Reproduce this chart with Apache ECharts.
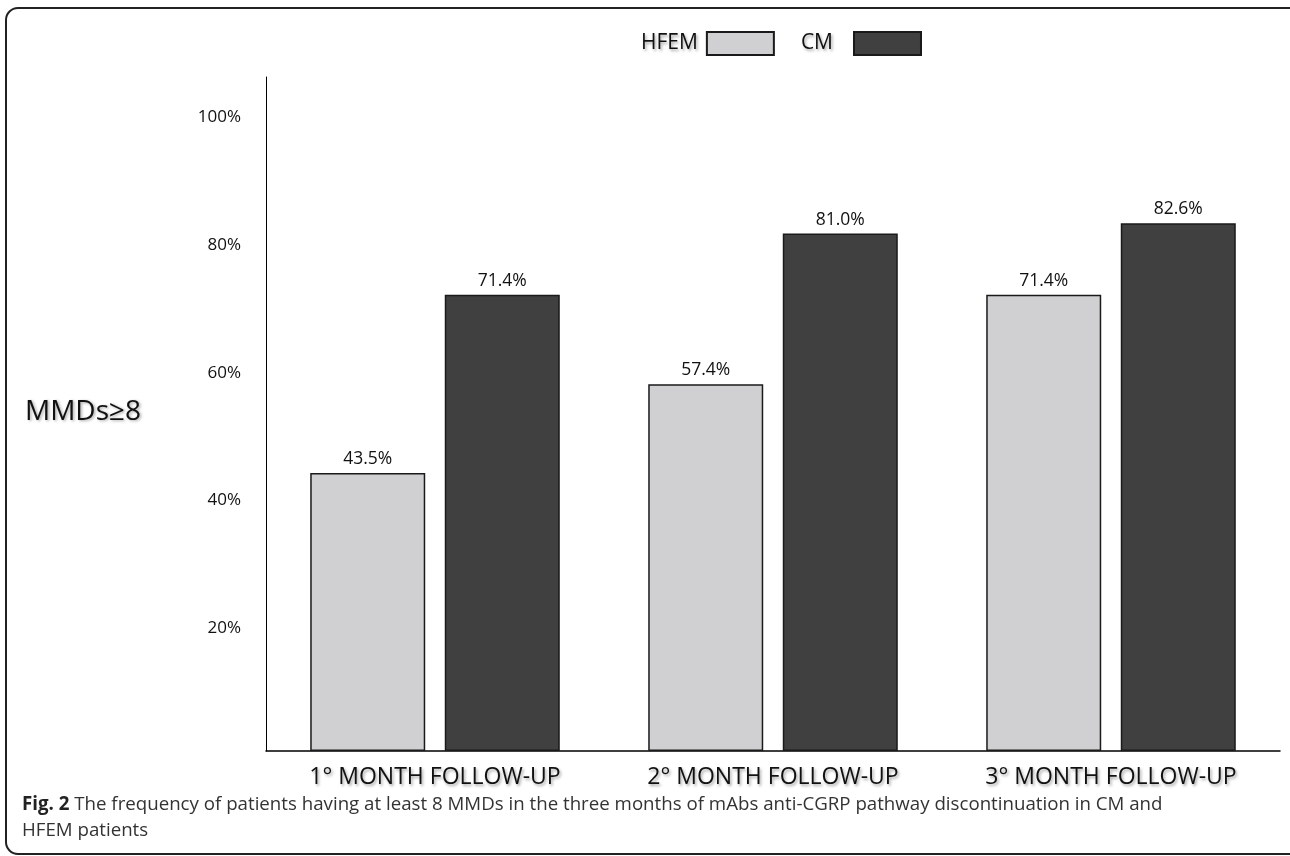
<!DOCTYPE html>
<html>
<head>
<meta charset="utf-8">
<title>MMDs≥8 after mAbs discontinuation</title>
<script src="https://cdn.jsdelivr.net/npm/echarts@6/dist/echarts.min.js"></script>
<style>
  html, body { margin: 0; padding: 0; background: #ffffff; }
  #chart { width: 1290px; height: 856px; }
</style>
</head>
<body>
<div id="chart"></div>
<script>
// Follow-up months after discontinuation of anti-CGRP mAbs
const categories = ['1° MONTH FOLLOW-UP', '2° MONTH FOLLOW-UP', '3° MONTH FOLLOW-UP'];
// Share of patients with at least 8 monthly migraine days (%)
const hfemValues = [43.5, 57.4, 71.4];
const cmValues = [71.4, 81.0, 82.6];
const seriesNames = ['HFEM', 'CM'];
const yTicks = [20, 40, 60, 80, 100];
const yAxisTitle = 'MMDs≥8';
const captionBold = 'Fig. 2';
const captionText = ' The frequency of patients having at least 8 MMDs in the three months of mAbs anti-CGRP pathway discontinuation in CM and';
const captionText2 = 'HFEM patients';

const FONT = '"Open Sans", "Noto Sans", sans-serif';
const shadow = { textShadowColor: 'rgba(0,0,0,0.35)', textShadowBlur: 3, textShadowOffsetX: 1.5, textShadowOffsetY: 1.5 };

const chart = echarts.init(document.getElementById('chart'), null, { renderer: 'canvas' });

const barLabel = {
  show: true,
  position: 'top',
  distance: 5,
  color: '#111',
  fontFamily: FONT,
  fontSize: 17.5,
  formatter: p => p.value.toFixed(1) + '%'
};

const legendText = Object.assign({ fontSize: 21, color: '#111', fontFamily: FONT, padding: [0, 4, 0, 0] }, shadow);

chart.setOption({
  animation: false,
  backgroundColor: '#ffffff',
  textStyle: { fontFamily: FONT },
  legend: {
    data: [
      { name: seriesNames[0], icon: 'rect' },
      { name: seriesNames[1], icon: 'rect', textStyle: Object.assign({}, legendText, { padding: [0, 16, 0, 0] }) }
    ],
    top: 26,
    left: 636,
    align: 'right',
    itemWidth: 67,
    itemHeight: 23,
    itemGap: 26,
    textStyle: legendText
  },
  grid: { left: 266, right: 10, top: 77, bottom: 105, containLabel: false },
  xAxis: {
    type: 'category',
    data: categories,
    axisLine: { show: true, lineStyle: { color: '#000', width: 1.5 } },
    axisTick: { show: false },
    axisLabel: Object.assign({ color: '#111', fontSize: 23, margin: 15, fontFamily: FONT, interval: 0 }, shadow)
  },
  yAxis: {
    type: 'value',
    min: 0,
    max: 105.5,
    interval: 20,
    axisLine: { show: true, lineStyle: { color: '#000', width: 1 } },
    axisTick: { show: false },
    splitLine: { show: false },
    axisLabel: {
      color: '#111',
      fontSize: 17,
      margin: 25,
      fontFamily: FONT,
      verticalAlign: 'top',
      lineHeight: 10,
      formatter: v => (yTicks.indexOf(v) >= 0 ? v + '%' : '')
    }
  },
  series: [
    {
      name: seriesNames[0],
      type: 'bar',
      data: hfemValues,
      barWidth: 115,
      barGap: '17%',
      itemStyle: { color: '#d0cfd1', borderColor: '#1a1a1a', borderWidth: 1.5 },
      label: barLabel
    },
    {
      name: seriesNames[1],
      type: 'bar',
      data: cmValues,
      barWidth: 115,
      itemStyle: { color: '#404040', borderColor: '#1a1a1a', borderWidth: 1.5 },
      label: barLabel
    }
  ],
  graphic: [
    {
      type: 'rect',
      shape: { x: 6, y: 8, width: 1300, height: 846, r: 12 },
      style: { fill: 'none', stroke: '#222', lineWidth: 2 },
      silent: true
    },
    {
      type: 'text',
      left: 25,
      top: 398,
      style: Object.assign({ text: yAxisTitle, fontSize: 28, fill: '#111', fontFamily: FONT }, shadow)
    },
    {
      type: 'text',
      left: 22,
      top: 795,
      style: {
        text: '{b|' + captionBold + '}{n|' + captionText + '}\n{n|' + captionText2 + '}',
        rich: {
          b: { fontSize: 18.7, fontWeight: 'bold', fill: '#222', fontFamily: FONT, lineHeight: 26 },
          n: { fontSize: 18.7, fill: '#333', fontFamily: FONT, lineHeight: 26 }
        }
      }
    }
  ]
});
</script>
</body>
</html>
